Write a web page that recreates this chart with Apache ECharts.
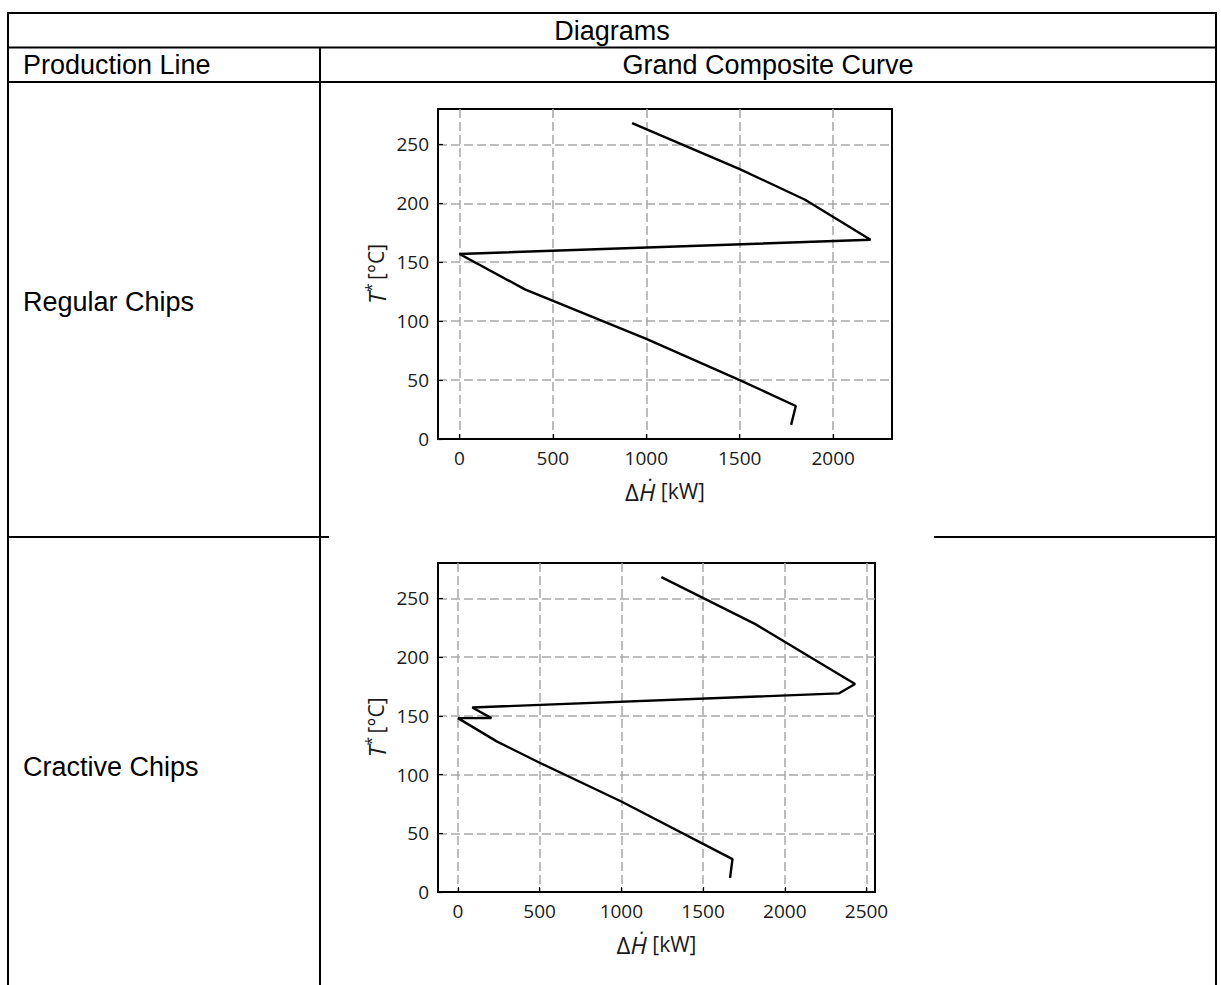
<!DOCTYPE html>
<html><head><meta charset="utf-8">
<script src="https://cdn.jsdelivr.net/npm/echarts@6/dist/echarts.min.js"></script>
<style>html,body{margin:0;padding:0;background:#fff}#c{width:1221px;height:985px}</style>
</head><body><div id="c"></div>
<script>
// ---- data ----
const headerTitle = 'Diagrams';
const colHeaders = ['Production Line', 'Grand Composite Curve'];
const rowLabels = ['Regular Chips', 'Cractive Chips'];
const regularDH = [924, 1500, 1850, 2200, 0, 350, 1000, 1500, 1800, 1775];
const regularT  = [268, 229, 203, 169, 157, 127, 85, 50, 28, 12];
const cractiveDH = [1245, 1820, 2430, 2330, 88, 205, 0, 240, 500, 1000, 1680, 1665];
const cractiveT  = [268, 228, 177, 169, 157, 148, 148, 128, 110, 77, 28, 12];
const xTicks1 = [0, 500, 1000, 1500, 2000];
const xTicks2 = [0, 500, 1000, 1500, 2000, 2500];
const yTicks = [0, 50, 100, 150, 200, 250];

const zip = (a, b) => a.map((v, i) => [v, b[i]]);
const tickFont = { fontFamily: 'Open Sans', fontSize: 19, color: '#1a1a1a', formatter: v => String(v) };
const gridLine = { show: true, lineStyle: { color: '#a8a8a8', type: [9, 4], width: 1.5 } };

function xAxis(gridIndex, min, max, ticks) {
  return {
    type: 'value', gridIndex, min, max,
    axisLine: { show: true, onZero: false, lineStyle: { color: '#000', width: 2 } },
    axisTick: { show: true, inside: true, length: 5, customValues: ticks, lineStyle: { color: '#000', width: 1.2 } },
    axisLabel: Object.assign({ customValues: ticks, margin: 9 }, tickFont),
    splitLine: gridLine,
    name: '{d|Δ}{i|Ḣ}{n| [kW]}',
    nameLocation: 'middle', nameGap: 40,
    nameTextStyle: { rich: {
      d: { fontFamily: 'Open Sans', fontSize: 24, color: '#1a1a1a' },
      i: { fontFamily: 'Open Sans', fontSize: 24, fontStyle: 'italic', color: '#1a1a1a' },
      n: { fontFamily: 'Open Sans', fontSize: 21, color: '#1a1a1a' } } }
  };
}
function yAxis(gridIndex) {
  return {
    type: 'value', gridIndex, min: 0, max: 280,
    axisLine: { show: true, onZero: false, lineStyle: { color: '#000', width: 2 } },
    axisTick: { show: true, inside: true, length: 5, customValues: yTicks, lineStyle: { color: '#000', width: 1.2 } },
    axisLabel: Object.assign({ customValues: yTicks, margin: 9 }, tickFont),
    splitLine: gridLine,
    name: '{i|T}{s|*} {n|[°C]}',
    nameLocation: 'middle', nameRotate: 90, nameGap: 49,
    nameTextStyle: { rich: {
      i: { fontFamily: 'Open Sans', fontSize: 24, fontStyle: 'italic', color: '#1a1a1a' },
      s: { fontFamily: 'Open Sans', fontSize: 16, color: '#1a1a1a', verticalAlign: 'top', padding: [0, 0, 10, 0] },
      n: { fontFamily: 'Open Sans', fontSize: 21, color: '#1a1a1a' } } }
  };
}

const L = (x1, y1, x2, y2) => ({ type: 'line', shape: { x1, y1, x2, y2 }, style: { stroke: '#000', lineWidth: 2 }, z: 0 });
const T = (x, y, text, align) => ({ type: 'text', x, y, style: { text, fontFamily: 'Liberation Sans, Arial', fontSize: 27, fill: '#000', align, verticalAlign: 'middle' }, z: 10 });

const chart = echarts.init(document.getElementById('c'), null, { renderer: 'svg' });
chart.setOption({
  backgroundColor: '#fff',
  animation: false,
  grid: [
    { left: 438, top: 109, width: 454, height: 330, show: true, borderColor: '#000', borderWidth: 2, backgroundColor: '#fff' },
    { left: 438, top: 563, width: 437, height: 329, show: true, borderColor: '#000', borderWidth: 2, backgroundColor: '#fff' }
  ],
  xAxis: [xAxis(0, -115, 2315, xTicks1), xAxis(1, -122, 2552, xTicks2)],
  yAxis: [yAxis(0), yAxis(1)],
  series: [
    { type: 'line', xAxisIndex: 0, yAxisIndex: 0, data: zip(regularDH, regularT), showSymbol: false, symbol: 'none', lineStyle: { color: '#000', width: 2.4 }, z: 5 },
    { type: 'line', xAxisIndex: 1, yAxisIndex: 1, data: zip(cractiveDH, cractiveT), showSymbol: false, symbol: 'none', lineStyle: { color: '#000', width: 2.4 }, z: 5 }
  ],
  graphic: [
    L(7, 13, 1217, 13), L(8, 13, 8, 985), L(1216, 13, 1216, 985),
    L(8, 47.5, 1216, 47.5), L(8, 82, 1216, 82), L(320, 47.5, 320, 985),
    L(8, 537, 329, 537), L(934, 537, 1216, 537),
    T(612, 31, headerTitle, 'center'),
    T(23, 65, colHeaders[0], 'left'),
    T(768, 65, colHeaders[1], 'center'),
    T(23, 302, rowLabels[0], 'left'),
    T(23, 767, rowLabels[1], 'left')
  ]
});
</script></body></html>
